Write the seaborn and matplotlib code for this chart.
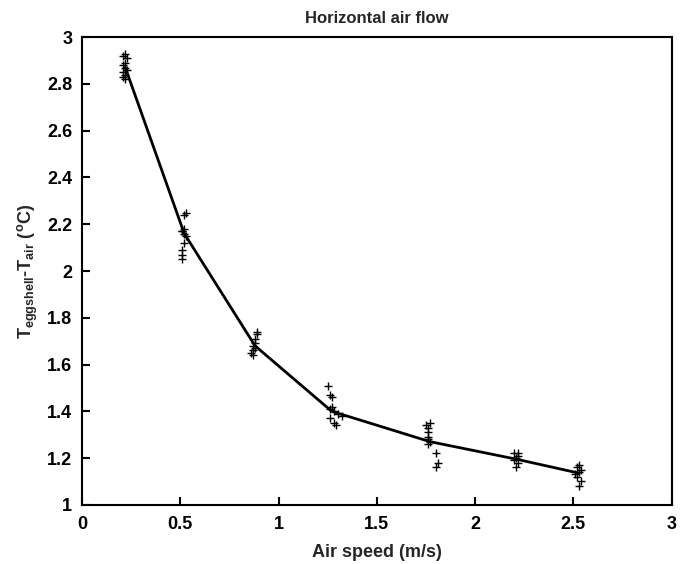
import matplotlib
matplotlib.use("Agg")
import matplotlib.pyplot as plt
import seaborn as sns
import pandas as pd

# measured points
x1 = [0.22, 0.21, 0.23, 0.22, 0.21, 0.22, 0.23, 0.21, 0.22, 0.21, 0.22]
y1 = [2.93, 2.92, 2.91, 2.89, 2.88, 2.87, 2.86, 2.85, 2.84, 2.83, 2.82]
x2 = [0.53, 0.52, 0.52, 0.51, 0.52, 0.53, 0.52, 0.51, 0.51, 0.51, 0.51]
y2 = [2.25, 2.24, 2.18, 2.17, 2.16, 2.15, 2.12, 2.09, 2.07, 2.05, 2.17]
x3 = [0.89, 0.89, 0.88, 0.88, 0.87, 0.88, 0.87, 0.86, 0.87]
y3 = [1.74, 1.73, 1.71, 1.69, 1.68, 1.67, 1.66, 1.65, 1.64]
x4 = [1.25, 1.26, 1.27, 1.27, 1.26, 1.28, 1.30, 1.32, 1.26, 1.28, 1.29]
y4 = [1.51, 1.47, 1.46, 1.42, 1.41, 1.40, 1.39, 1.38, 1.37, 1.35, 1.34]
x5 = [1.77, 1.75, 1.76, 1.76, 1.76, 1.76, 1.77, 1.76, 1.80, 1.81, 1.80]
y5 = [1.35, 1.34, 1.33, 1.31, 1.29, 1.28, 1.27, 1.26, 1.22, 1.18, 1.16]
x6 = [2.20, 2.22, 2.21, 2.20, 2.22, 2.21, 2.22]
y6 = [1.22, 1.21, 1.20, 1.19, 1.18, 1.16, 1.22]
x7 = [2.53, 2.52, 2.53, 2.51, 2.52, 2.54, 2.53, 2.54]
y7 = [1.17, 1.16, 1.14, 1.13, 1.12, 1.10, 1.08, 1.15]

# fitted/mean curve
line_x = [0.22, 0.52, 0.88, 1.27, 1.77, 2.21, 2.53]
line_y = [2.87, 2.16, 1.68, 1.40, 1.27, 1.195, 1.135]

xticks = [0, 0.5, 1, 1.5, 2, 2.5, 3]
xtick_labels = ["0", "0.5", "1", "1.5", "2", "2.5", "3"]
yticks = [1, 1.2, 1.4, 1.6, 1.8, 2, 2.2, 2.4, 2.6, 2.8, 3]
ytick_labels = ["1", "1.2", "1.4", "1.6", "1.8", "2", "2.2", "2.4", "2.6", "2.8", "3"]

sns.set_style("white")
plt.rcParams["font.family"] = ["Liberation Sans", "DejaVu Sans"]
plt.rcParams["mathtext.fontset"] = "custom"
plt.rcParams["mathtext.rm"] = "Liberation Sans:bold"
plt.rcParams["mathtext.it"] = "Liberation Sans:bold"
plt.rcParams["mathtext.bf"] = "Liberation Sans:bold"
plt.rcParams["mathtext.default"] = "rm"

pts = pd.DataFrame({
    "x": x1 + x2 + x3 + x4 + x5 + x6 + x7,
    "y": y1 + y2 + y3 + y4 + y5 + y6 + y7,
})
curve = pd.DataFrame({"x": line_x, "y": line_y})

fig = plt.figure(figsize=(6.84, 5.64), dpi=100)
ax = fig.add_axes([0.12, 0.105, 0.862, 0.829])

sns.scatterplot(data=pts, x="x", y="y", marker="+", color="black", s=40,
                linewidth=1.0, ax=ax, legend=False)
sns.lineplot(data=curve, x="x", y="y", color="black", linewidth=2.0,
             ax=ax, legend=False, sort=False)

ax.set_xlim(0, 3)
ax.set_ylim(1, 3)
ax.set_xticks(xticks)
ax.set_xticklabels(xtick_labels)
ax.set_yticks(yticks)
ax.set_yticklabels(ytick_labels)
for s in ax.spines.values():
    s.set_color("black")
    s.set_linewidth(1.5)
    s.set_visible(True)
ax.tick_params(direction="in", length=6, width=1.5, labelsize=13,
               colors="black", top=False, right=False,
               bottom=True, left=True)
ax.tick_params(axis="x", pad=8)
ax.tick_params(axis="y", pad=7)
for lab in ax.get_xticklabels() + ax.get_yticklabels():
    lab.set_fontweight("bold")

ax.set_xlabel("Air speed (m/s)", fontsize=13, fontweight="bold", labelpad=8)
ax.set_ylabel(r"T$_{eggshell}$-T$_{air}$ $($$^{o}$C)", fontsize=13,
              fontweight="bold", labelpad=5)
ax.set_title("Horizontal air flow", fontsize=12, fontweight="bold", pad=10)
ax.grid(False)

fig.savefig("out.png", dpi=100, facecolor="white")
